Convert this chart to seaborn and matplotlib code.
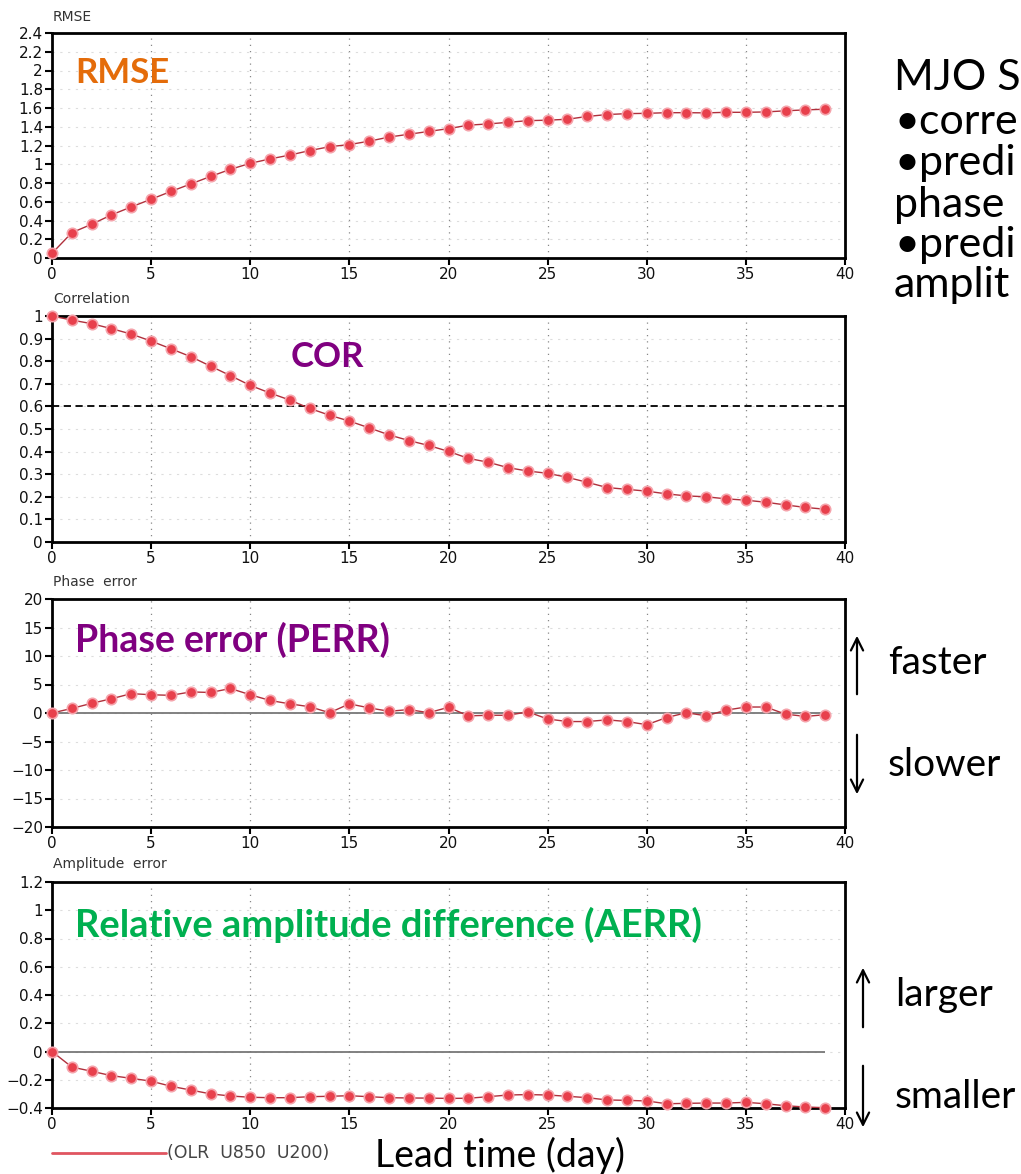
import numpy as np
import pandas as pd
import matplotlib
matplotlib.use("Agg")
import matplotlib.pyplot as plt
import seaborn as sns

# ---------------- data ----------------
days = list(range(40))
rmse = [0.05, 0.27, 0.36, 0.46, 0.545, 0.627, 0.71, 0.79, 0.87, 0.946,
        1.01, 1.057, 1.098, 1.146, 1.187, 1.21, 1.246, 1.29, 1.32, 1.35,
        1.38, 1.417, 1.43, 1.447, 1.465, 1.47, 1.48, 1.51, 1.53, 1.54,
        1.543, 1.55, 1.55, 1.548, 1.554, 1.554, 1.558, 1.57, 1.58, 1.587]
cor = [1.0, 0.982, 0.966, 0.944, 0.92, 0.889, 0.855, 0.82, 0.778, 0.736,
       0.693, 0.659, 0.628, 0.591, 0.561, 0.535, 0.505, 0.474, 0.449, 0.427,
       0.401, 0.37, 0.353, 0.329, 0.314, 0.304, 0.286, 0.264, 0.241, 0.233,
       0.225, 0.213, 0.204, 0.2, 0.191, 0.185, 0.176, 0.164, 0.153, 0.145]
perr = [0.0, 0.8, 1.7, 2.5, 3.4, 3.2, 3.1, 3.7, 3.6, 4.3,
        3.2, 2.2, 1.6, 1.1, 0.05, 1.6, 0.9, 0.3, 0.6, 0.05,
        1.0, -0.5, -0.4, -0.4, 0.2, -1.05, -1.5, -1.5, -1.2, -1.5,
        -2.05, -0.8, 0.05, -0.5, 0.5, 1.05, 1.05, -0.2, -0.6, -0.3]
aerr = [0.0, -0.11, -0.14, -0.171, -0.19, -0.21, -0.246, -0.273, -0.30, -0.315,
        -0.324, -0.327, -0.327, -0.32, -0.317, -0.313, -0.32, -0.327, -0.329, -0.33,
        -0.332, -0.331, -0.32, -0.308, -0.305, -0.308, -0.317, -0.327, -0.343, -0.346,
        -0.35, -0.37, -0.367, -0.365, -0.365, -0.36, -0.37, -0.384, -0.393, -0.398]

panel_titles = ["RMSE", "Correlation", "Phase  error", "Amplitude  error"]
panel_labels = ["RMSE", "COR", "Phase error (PERR)", "Relative amplitude difference (AERR)"]
label_colors = ["#E46C0A", "#800080", "#800080", "#00B050"]
label_sizes = [25, 25, 27, 27.4]
yticks_list = [np.arange(0, 2.41, 0.2), np.arange(0, 1.01, 0.1),
               np.arange(-20, 21, 5), np.arange(-0.4, 1.21, 0.2)]
xticks = list(range(0, 41, 5))
legend_label = "(OLR  U850  U200)"
xlabel_text = "Lead time (day)"
# the right-hand text block is cut by the picture's edge in the reference
side_lines = ["MJO S", "\u2022corre", "\u2022predi", "phase", "\u2022predi", "amplit"]

# ---------------- figure ----------------
sns.set_style("white")
plt.rcParams["font.family"] = ["DejaVu Sans"]
plt.rcParams["axes.unicode_minus"] = True

W, H = 1021, 1174
fig = plt.figure(figsize=(W / 100, H / 100), dpi=100)
fig.patch.set_facecolor("white")

def fx(x):
    return x / W

def fy(y):
    return 1 - y / H

panels = [(33, 258), (316, 542), (599, 827), (882, 1108)]
series = [rmse, cor, perr, aerr]
label_pos = [(75, 73), (291, 357), (75, 640), (75, 925)]
title_y = [17, 299, 582, 864]

line_col = "#b0303c"
mk_col = "#e8404c"
mk_edge = "#f5a3ab"

def fmt(v):
    s = f"{v:.10g}"
    if abs(v) < 1e-9:
        s = "0"
    return s.replace("-", "\u2212")

for i, ((top, bot), vals) in enumerate(zip(panels, series)):
    ax = fig.add_axes([fx(52), fy(bot), fx(845) - fx(52), (bot - top) / H])
    df = pd.DataFrame({"day": days, "val": vals})
    yt = yticks_list[i]
    ax.set_xlim(0, 40)
    ax.set_ylim(yt[0], yt[-1])
    for xv in range(5, 40, 5):
        ax.axvline(xv, color="#888888", lw=0.9, ls=(0, (1, 4)), zorder=0)
    for yv in yt[1:-1]:
        ax.axhline(yv, color="#dddddd", lw=0.8, ls=(0, (2, 5)), zorder=0)
    if i == 1:
        ax.axhline(0.6, color="black", lw=1.3, ls=(0, (4, 2.5)), zorder=1)
    if i in (2, 3):
        ax.hlines(0, days[0], days[-1], color="#777777", lw=1.3, zorder=1)
    sns.lineplot(data=df, x="day", y="val", ax=ax, color=line_col, lw=1.0,
                 marker="o", markersize=7.5, markerfacecolor=mk_col,
                 markeredgecolor=mk_edge, markeredgewidth=1.2, zorder=3,
                 clip_on=False)
    ax.set_xticks(xticks)
    ax.set_xticklabels([str(t) for t in xticks])
    ax.set_yticks(yt)
    ax.set_yticklabels([fmt(round(v, 2)) for v in yt])
    ax.set_xlabel("")
    ax.set_ylabel("")
    for sp in ax.spines.values():
        sp.set_linewidth(2.0)
        sp.set_color("black")
        sp.set_visible(True)
    ax.tick_params(axis="both", direction="out", length=5, width=1.5,
                   colors="black", labelsize=11, pad=1.5, left=True, bottom=True)
    for t in ax.get_xticklabels() + ax.get_yticklabels():
        t.set_color("#111111")
    fig.text(fx(53), fy(title_y[i]), panel_titles[i], fontsize=10, color="#333333",
             ha="left", va="center")
    lx, ly = label_pos[i]
    fig.text(fx(lx), fy(ly), panel_labels[i], fontsize=label_sizes[i], fontweight="bold",
             family=["Lato", "DejaVu Sans"], color=label_colors[i],
             ha="left", va="center")

# legend line + text
fig.add_artist(plt.Line2D([fx(52), fx(166)], [fy(1153), fy(1153)],
                          color="#e05560", lw=2.0))
fig.text(fx(167), fy(1153), legend_label, fontsize=12.5, color="#444444",
         ha="left", va="center")
fig.text(fx(375), fy(1155), xlabel_text, fontsize=27,
         family=["Lato", "DejaVu Sans"], color="black", ha="left", va="center")

# right side text block
side_y = [78, 122, 163, 205, 245, 285]
for s, yy in zip(side_lines, side_y):
    fig.text(fx(894), fy(yy), s, fontsize=31, family=["Lato", "DejaVu Sans"],
             color="black", ha="left", va="center")

def arrow(x, y0, y1):
    fig.add_artist(matplotlib.patches.FancyArrowPatch(
        (fx(x), fy(y0)), (fx(x), fy(y1)), transform=fig.transFigure,
        arrowstyle="->", mutation_scale=22, lw=1.6, color="black"))

arrow(857, 697, 633)
arrow(857, 732, 797)
arrow(863, 1030, 965)
arrow(863, 1063, 1130)
for word, xx, yy in [("faster", 888, 663), ("slower", 888, 765),
                     ("larger", 895, 995), ("smaller", 895, 1097)]:
    fig.text(fx(xx), fy(yy), word, fontsize=28, family=["Lato", "DejaVu Sans"],
             color="black", ha="left", va="center")

fig.savefig("out.png", dpi=100)
